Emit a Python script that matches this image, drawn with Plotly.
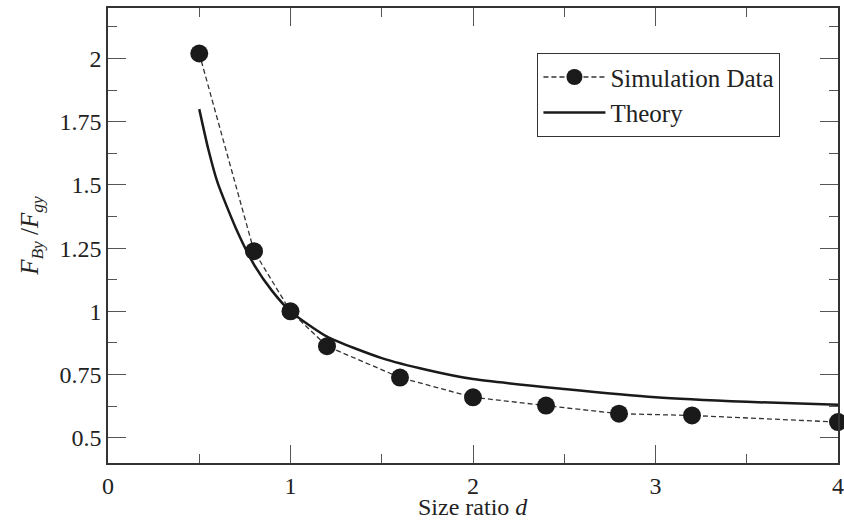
import plotly.graph_objects as go

# Simulation data
sim_d = [0.5, 0.8, 1.0, 1.2, 1.6, 2.0, 2.4, 2.8, 3.2, 4.0]
sim_f = [2.02, 1.238, 1.0, 0.862, 0.738, 0.66, 0.627, 0.595, 0.588, 0.562]

# Theory curve
th_d = [0.5, 0.55, 0.6, 0.7, 0.8, 0.9, 1.0, 1.2, 1.5, 1.75, 2.0, 2.5, 3.0, 3.5, 4.0]
th_f = [1.80, 1.64, 1.51, 1.33, 1.185, 1.08, 1.00, 0.90, 0.815, 0.768, 0.732, 0.693, 0.66, 0.642, 0.63]

x_ticks = [0, 1, 2, 3, 4]
y_ticks = [0.5, 0.75, 1.0, 1.25, 1.5, 1.75, 2.0]
y_tick_labels = ["0.5", "0.75", "1", "1.25", "1.5", "1.75", "2"]

FONT = "Liberation Serif, Times New Roman, serif"
TXT = "#222222"

fig = go.Figure()
fig.add_trace(go.Scatter(
    x=sim_d, y=sim_f, mode="lines+markers", name="Simulation Data",
    line=dict(color="#333333", width=1.3, dash="5px,3px"),
    marker=dict(size=18, color="#1a1a1a"),
    cliponaxis=False,
))
fig.add_trace(go.Scatter(
    x=th_d, y=th_f, mode="lines", name="Theory",
    line=dict(color="#1a1a1a", width=2.5, shape="spline", smoothing=0.6),
))

axis_common = dict(
    showline=True, linecolor="#333333", linewidth=1.5, mirror="ticks",
    ticks="inside", ticklen=18, tickwidth=1.3, tickcolor="#555555",
    showgrid=False, zeroline=False, automargin=False,
    ticklabeloverflow="allow",
    tickfont=dict(family=FONT, size=24, color=TXT),
)

fig.update_xaxes(
    range=[0, 4], tickvals=x_ticks,
    minor=dict(dtick=0.5, ticks="inside", ticklen=9, tickwidth=1.3, tickcolor="#555555"),
    **axis_common,
)
fig.update_yaxes(
    range=[0.4, 2.2], tickvals=y_ticks, ticktext=y_tick_labels,
    minor=dict(dtick=0.125, ticks="inside", ticklen=9, tickwidth=1.3, tickcolor="#555555"),
    title=dict(text="<i>F<sub>By</sub></i> /<i>F<sub>gy</sub></i>", font=dict(family=FONT, size=25, color=TXT), standoff=14),
    **axis_common,
)

# x-axis title as annotation for precise placement
fig.add_annotation(
    text="Size ratio <i>d</i>", xref="paper", yref="paper", x=0.5, y=0,
    xanchor="center", yanchor="top", yshift=-30, showarrow=False, borderpad=0,
    font=dict(family=FONT, size=24, color=TXT),
)

fig.update_layout(
    width=844, height=520,
    margin=dict(l=108, r=6, t=8, b=57),
    plot_bgcolor="white", paper_bgcolor="white",
    showlegend=True,
    legend=dict(
        x=0.588, y=0.901, xanchor="left", yanchor="top",
        bgcolor="white", bordercolor="#333333", borderwidth=1.2,
        font=dict(family=FONT, size=25, color=TXT),
        tracegroupgap=0, itemwidth=62,
    ),
)

fig.write_html("out.html")
